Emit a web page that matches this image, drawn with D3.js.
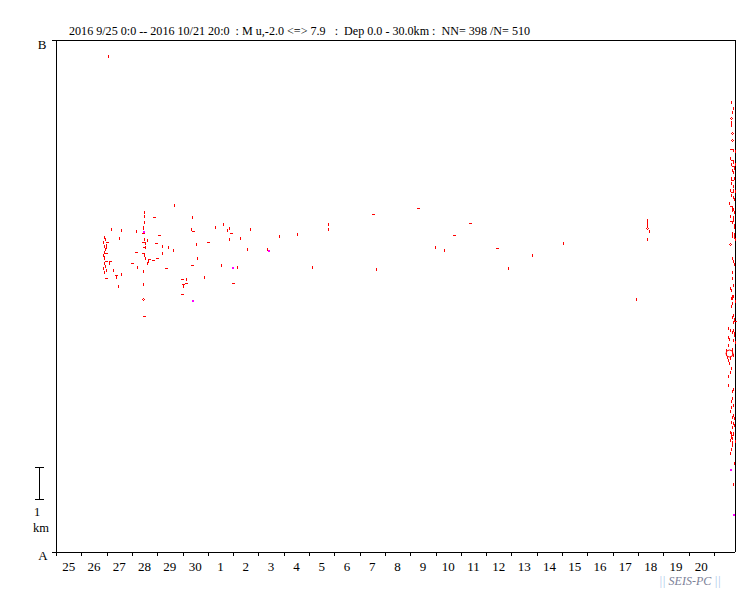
<!DOCTYPE html>
<html><head><meta charset="utf-8">
<script src="https://cdn.jsdelivr.net/npm/d3@7"></script>
<style>body{margin:0;background:#fff}svg{display:block}text{font-family:"Liberation Serif","Times New Roman","DejaVu Serif",serif}</style>
</head><body>
<script>
// ---- data: [dayOffset from 2016-09-25 00:00, distance km from A, magnitude, depth km]
const dayLabels = ["25","26","27","28","29","30","1","2","3","4","5","6","7","8","9","10","11","12","13","14","15","16","17","18","19","20"];
const totalDays = 26 + 20/24;
const sectionKm = 16;
const headerText = "2016 9/25 0:0 -- 2016 10/21 20:0  : M u,-2.0 <=> 7.9   :  Dep 0.0 - 30.0km :  NN= 398 /N= 510";

const westCluster = [
 [1.909,9.83,0.3,8],[1.937,9.77,0.3,8],[1.870,9.70,0.3,8],[2.004,9.70,0.7,8],[1.897,9.57,0.3,8],
 [1.964,9.59,0.3,8],[1.937,9.46,0.3,8],[1.897,9.38,0.3,8],[1.964,9.33,0.7,8],[1.870,9.28,0.3,8],
 [1.909,9.23,0.3,8],[1.964,9.10,0.7,8],[1.897,9.02,0.3,8],[1.937,8.94,0.3,8],[1.870,8.88,0.3,8],
 [1.988,8.81,0.3,8],[1.909,8.74,0.3,8],[1.964,8.55,0.7,8],[2.123,9.10,0.7,8],[2.095,9.02,0.3,8],
 [2.265,8.81,0.3,8],[2.383,8.66,0.7,8],[2.372,8.59,0.3,8],[2.581,8.69,0.3,8],[2.462,8.32,0.3,8],
 [1.897,9.19,0.3,8],[1.976,9.53,0.3,8],[2.186,10.10,0.3,8],[2.581,10.07,0.3,8],[3.174,10.04,0.3,8],
 [2.502,9.82,0.3,8],[2.055,15.50,0.3,8],
 [3.490,10.63,0.3,8],[3.490,10.51,0.3,8],[3.490,10.32,0.3,8],[3.451,10.17,0.3,8],[3.451,10.12,0.3,8],
 [3.427,9.98,0.7,8],[3.490,10.01,0.3,15],[3.490,9.78,0.3,8],[3.451,9.70,0.7,8],[3.518,9.65,0.3,8],
 [3.466,9.54,0.7,8],[3.518,9.54,0.3,8],[3.451,9.33,0.7,8],[3.490,9.28,0.3,8],[3.530,9.18,0.3,8],
 [3.609,9.76,0.3,8],[3.688,9.15,0.7,8],[3.648,9.09,0.3,8],[3.609,9.04,0.3,8],[3.162,9.37,0.7,8],
 [3.004,9.02,0.7,8],[3.213,8.92,0.3,8],[3.451,8.78,0.3,8],[3.451,8.375,0.3,8],[3.451,7.90,1.5,8],
 [3.466,7.37,0.7,8],[3.874,10.47,0.7,8],[4.676,10.84,0.3,8],[4.071,9.90,0.7,8],[3.941,9.65,0.7,8],
 [4.202,9.57,0.3,8],[4.439,9.53,0.3,8],[4.625,9.43,0.3,8],[4.202,9.34,0.3,8],[4.004,9.20,0.7,8],
 [3.846,9.12,0.7,8],[4.348,8.87,0.7,8]
];

const midScatter = [
 [5.387,10.48,0.3,8],[5.348,10.10,0.3,8],[5.415,10.03,0.7,8],[6.273,10.17,0.3,8],[6.613,10.25,0.3,8],
 [6.771,10.07,0.3,8],[6.850,10.13,0.3,8],[6.905,9.96,0.7,8],[6.850,9.79,0.3,8],[5.545,9.625,0.3,8],
 [5.996,9.68,0.7,8],[5.561,9.18,0.3,8],[5.364,8.96,0.7,8],[4.968,8.52,0.7,8],[5.150,8.53,0.3,8],
 [5.126,8.40,0.7,8],[5.020,8.37,0.7,8],[5.020,8.31,0.3,8],[4.968,8.05,0.7,8],[5.415,7.85,0.3,15],
 [5.862,8.60,0.3,8],[6.534,8.98,0.3,8],[6.996,8.88,0.3,15],[7.154,8.92,0.3,8],[6.996,8.40,0.7,8],
 [7.680,10.10,0.3,8],[7.285,9.82,0.3,8],[7.561,9.48,0.3,8],[8.352,9.48,0.3,8],[8.419,9.41,0.3,15],
 [8.826,9.88,0.3,8],[9.538,9.95,0.3,8],[10.130,8.92,0.3,8],[10.763,10.26,0.3,8],[10.763,10.10,0.3,8],
 [12.530,10.55,0.7,8],[12.660,8.85,0.3,8],[14.296,10.74,0.7,8],[14.992,9.54,0.3,8],[15.348,9.45,0.3,8],
 [15.719,9.90,0.7,8],[16.352,10.27,0.7,8],[17.419,9.49,0.7,8],[17.877,8.88,0.3,8],[18.814,9.27,0.3,8],
 [20.040,9.66,0.3,8],[22.937,7.92,0.3,8],
 [23.372,10.375,0.3,8],[23.372,10.28,0.3,8],[23.372,10.19,0.3,8],[23.372,10.12,1.5,8],[23.420,10.03,0.3,8],
 [23.372,9.78,0.3,8]
];

const eastCluster = [
 [26.68,14.07,0.3,8],[26.76,13.87,0.3,8],[26.72,13.75,0.3,8],[26.66,13.56,1.5,8],[26.68,13.45,0.3,8],
 [26.66,13.34,0.3,8],[26.72,13.10,1.5,8],[26.73,12.88,1.5,8],[26.66,12.58,0.7,8],[26.77,12.56,0.3,8],
 [26.82,12.53,0.3,8],[26.64,12.31,0.3,8],[26.71,12.25,0.7,8],[26.77,12.19,0.3,8],[26.68,12.13,0.3,8],
 [26.74,12.06,0.7,8],[26.83,12.13,0.3,8],[26.80,12.00,0.3,8],[26.71,11.94,0.3,8],[26.77,11.88,0.3,8],
 [26.66,11.69,0.3,8],[26.73,11.63,0.7,8],[26.80,11.68,0.3,8],[26.68,11.53,0.3,8],[26.77,11.44,0.3,8],
 [26.64,11.31,0.3,8],[26.71,11.25,0.7,8],[26.76,11.31,0.3,8],[26.82,11.28,0.3,8],[26.68,11.16,0.3,8],
 [26.74,11.09,0.3,8],[26.79,11.03,0.3,8],[26.61,10.91,0.3,8],[26.66,10.81,0.7,8],[26.71,10.78,0.3,8],
 [26.77,10.72,0.3,8],[26.73,10.69,0.3,8],[26.80,10.63,0.3,8],[26.64,10.50,0.3,8],[26.74,10.47,0.3,8],
 [26.77,10.38,0.3,8],[26.66,10.34,0.7,8],[26.72,10.31,0.3,8],[26.80,10.22,0.3,8],[26.78,10.16,0.3,8],
 [26.71,9.97,0.3,8],[26.78,9.94,0.3,8],[26.73,9.89,0.3,8],[26.80,9.84,0.3,8],[26.82,9.78,0.3,8],
 [26.65,9.63,1.5,8],[26.73,9.19,0.3,8],[26.76,9.09,0.3,8],[26.78,9.00,0.3,8],[26.72,8.75,0.3,8],
 [26.73,8.56,0.3,8],[26.77,8.34,0.3,8],[26.65,8.25,0.3,8],[26.68,8.19,0.3,8],[26.72,8.00,0.3,8],
 [26.66,7.94,0.3,8],[26.77,8.00,0.3,8],[26.73,7.94,0.3,8],[26.83,7.84,0.3,8],[26.72,7.78,0.3,8],
 [26.68,7.69,0.3,8],[26.74,7.41,0.3,8],[26.72,7.34,0.3,8],[26.78,7.28,0.3,8],[26.74,7.19,0.3,8],
 [26.82,7.23,0.7,8],[26.57,7.00,0.3,8],[26.65,6.94,0.3,8],[26.72,6.88,0.3,8],[26.74,6.94,0.3,8],
 [26.78,6.84,0.3,8],[26.80,6.78,0.3,8],[26.56,6.72,0.3,8],[26.61,6.65,0.3,8],[26.77,6.63,0.3,8],
 [26.83,6.57,0.3,8],[26.56,6.47,0.3,8],[26.49,6.31,0.3,8],[26.71,6.33,0.3,8],[26.47,6.19,0.3,8],
 [26.53,6.10,0.3,8],[26.72,6.26,0.3,8],[26.77,6.16,0.3,8],[26.64,6.05,0.3,8],[26.56,6.00,0.3,8],
 [26.61,5.90,0.3,8],[26.61,6.21,2.5,8],[26.68,5.74,0.3,8],[26.65,5.63,0.3,8],[26.55,5.50,0.3,8],
 [26.55,5.22,0.3,8],[26.76,5.09,0.3,8],[26.72,5.03,0.3,8],[26.71,4.80,0.3,8],[26.68,4.73,0.3,8],
 [26.74,4.59,0.3,8],[26.69,4.54,0.3,8],[26.62,4.42,0.3,8],[26.74,4.28,0.3,8],[26.71,4.23,0.3,8],
 [26.78,4.18,0.3,8],[26.69,4.07,0.3,8],[26.76,4.02,0.3,8],[26.80,3.97,0.3,8],[26.72,3.92,0.3,8],
 [26.64,3.76,0.3,8],[26.68,3.71,0.3,8],[26.71,3.66,0.7,8],[26.66,3.60,0.3,8],[26.74,3.73,0.3,8],
 [26.73,3.55,0.3,8],[26.65,3.50,0.3,8],[26.73,3.45,0.3,8],[26.82,3.48,0.3,8],[26.71,3.34,0.3,8],
 [26.66,3.21,0.3,8],[26.64,3.10,0.3,8],[26.80,2.79,0.3,8],[26.68,2.56,0.3,15],[26.74,2.13,0.3,8],
 [26.80,1.16,0.3,15]
];

// ---- drawing
const W = 751, H = 593;
const L = 56, R = 735, T = 40, B = 552;
const FONT = "Liberation Serif";
const svg = d3.select("body").append("svg").attr("width", W).attr("height", H)
  .attr("font-family", FONT);

const x = d3.scaleLinear().domain([0, totalDays]).range([L, R]);
const y = d3.scaleLinear().domain([0, sectionKm]).range([B, T]);
const color = d3.scaleThreshold().domain([12]).range(["#ff0000", "#ff00ff"]);

// header
svg.append("text").attr("x", 69).attr("y", 35).attr("font-size", 12.1).attr("font-family", FONT)
  .attr("xml:space", "preserve").style("white-space", "pre").text(headerText);

// frame
const g = svg.append("g").attr("shape-rendering", "crispEdges");
g.append("line").attr("x1", L - 4).attr("x2", R).attr("y1", T + .5).attr("y2", T + .5).attr("stroke", "#000");
g.append("line").attr("x1", L - 4).attr("x2", R).attr("y1", B + .5).attr("y2", B + .5).attr("stroke", "#000");
g.append("line").attr("x1", L + .5).attr("x2", L + .5).attr("y1", T).attr("y2", B + 4).attr("stroke", "#000");
g.append("line").attr("x1", R + .5).attr("x2", R + .5).attr("y1", T).attr("y2", B).attr("stroke", "#000");

// x axis ticks (day boundaries) and labels (day centres)
const tickDays = d3.range(1, dayLabels.length + 1);
const xAxis = d3.axisBottom(x).tickValues(tickDays).tickSize(4).tickFormat("");
const ax = svg.append("g").attr("transform", `translate(0,${B})`).call(xAxis);
ax.select(".domain").remove();
ax.selectAll(".tick line").attr("stroke", "#000").attr("shape-rendering", "crispEdges");

svg.append("g").selectAll("text").data(dayLabels).join("text")
  .attr("x", (d, i) => x(i + 0.5)).attr("y", 571).attr("text-anchor", "middle")
  .attr("font-family", FONT).attr("font-size", 13).attr("fill", "#000").text(d => d);

// A / B labels
svg.append("text").attr("x", 42).attr("y", 48.5).attr("text-anchor", "middle").attr("font-family", FONT).attr("font-size", 13).text("B");
svg.append("text").attr("x", 43).attr("y", 559.5).attr("text-anchor", "middle").attr("font-family", FONT).attr("font-size", 13).text("A");

// 1 km scale bar
const sb = svg.append("g").attr("stroke", "#000").attr("shape-rendering", "crispEdges");
const y0 = 499, y1 = y0 - (y(0) - y(1));
sb.append("line").attr("x1", 39.5).attr("x2", 39.5).attr("y1", y1).attr("y2", y0);
sb.append("line").attr("x1", 35).attr("x2", 44).attr("y1", y1 + .5).attr("y2", y1 + .5);
sb.append("line").attr("x1", 35).attr("x2", 44).attr("y1", y0 + .5).attr("y2", y0 + .5);
svg.append("text").attr("x", 34).attr("y", 516).attr("font-family", FONT).attr("font-size", 12.5).text("1");
svg.append("text").attr("x", 33).attr("y", 532).attr("font-family", FONT).attr("font-size", 12.5).text("km");

// events
const events = westCluster.concat(midScatter, eastCluster);
const ev = svg.append("g").attr("shape-rendering", "crispEdges");
const px1 = (px, py, c) => ev.append("rect").attr("x", px).attr("y", py).attr("width", 1).attr("height", 1).attr("fill", c);
events.forEach(([d, k, m, dep]) => {
  const px = Math.round(x(d)), py = Math.round(y(k)), c = color(dep);
  if (dep >= 12) {
    ev.append("rect").attr("x", px - 1).attr("y", py - 1).attr("width", 2).attr("height", 2).attr("fill", c);
  } else if (m >= 2) {
    ev.append("circle").attr("cx", px + .5).attr("cy", py + .5).attr("r", 3.5).attr("fill", "none")
      .attr("stroke", c).attr("shape-rendering", "auto");
  } else if (m >= 1) {
    px1(px, py - 1, c); px1(px - 1, py, c); px1(px + 1, py, c); px1(px, py + 1, c);
  } else if (m >= 0.5) {
    ev.append("rect").attr("x", px - 1).attr("y", py).attr("width", 3).attr("height", 1).attr("fill", c);
  } else {
    ev.append("rect").attr("x", px).attr("y", py - 1).attr("width", 1).attr("height", 3).attr("fill", c);
  }
});

// signature
const sig = svg.append("text").attr("x", 659).attr("y", 585).attr("font-family", FONT).attr("font-size", 12)
  .attr("font-style", "italic").attr("xml:space", "preserve").style("white-space", "pre");
sig.append("tspan").attr("fill", "#a9c4ea").text("|| ");
sig.append("tspan").attr("fill", "#7c8197").text("SEIS-PC");
sig.append("tspan").attr("fill", "#a9c4ea").text(" ||");
</script>
</body></html>
